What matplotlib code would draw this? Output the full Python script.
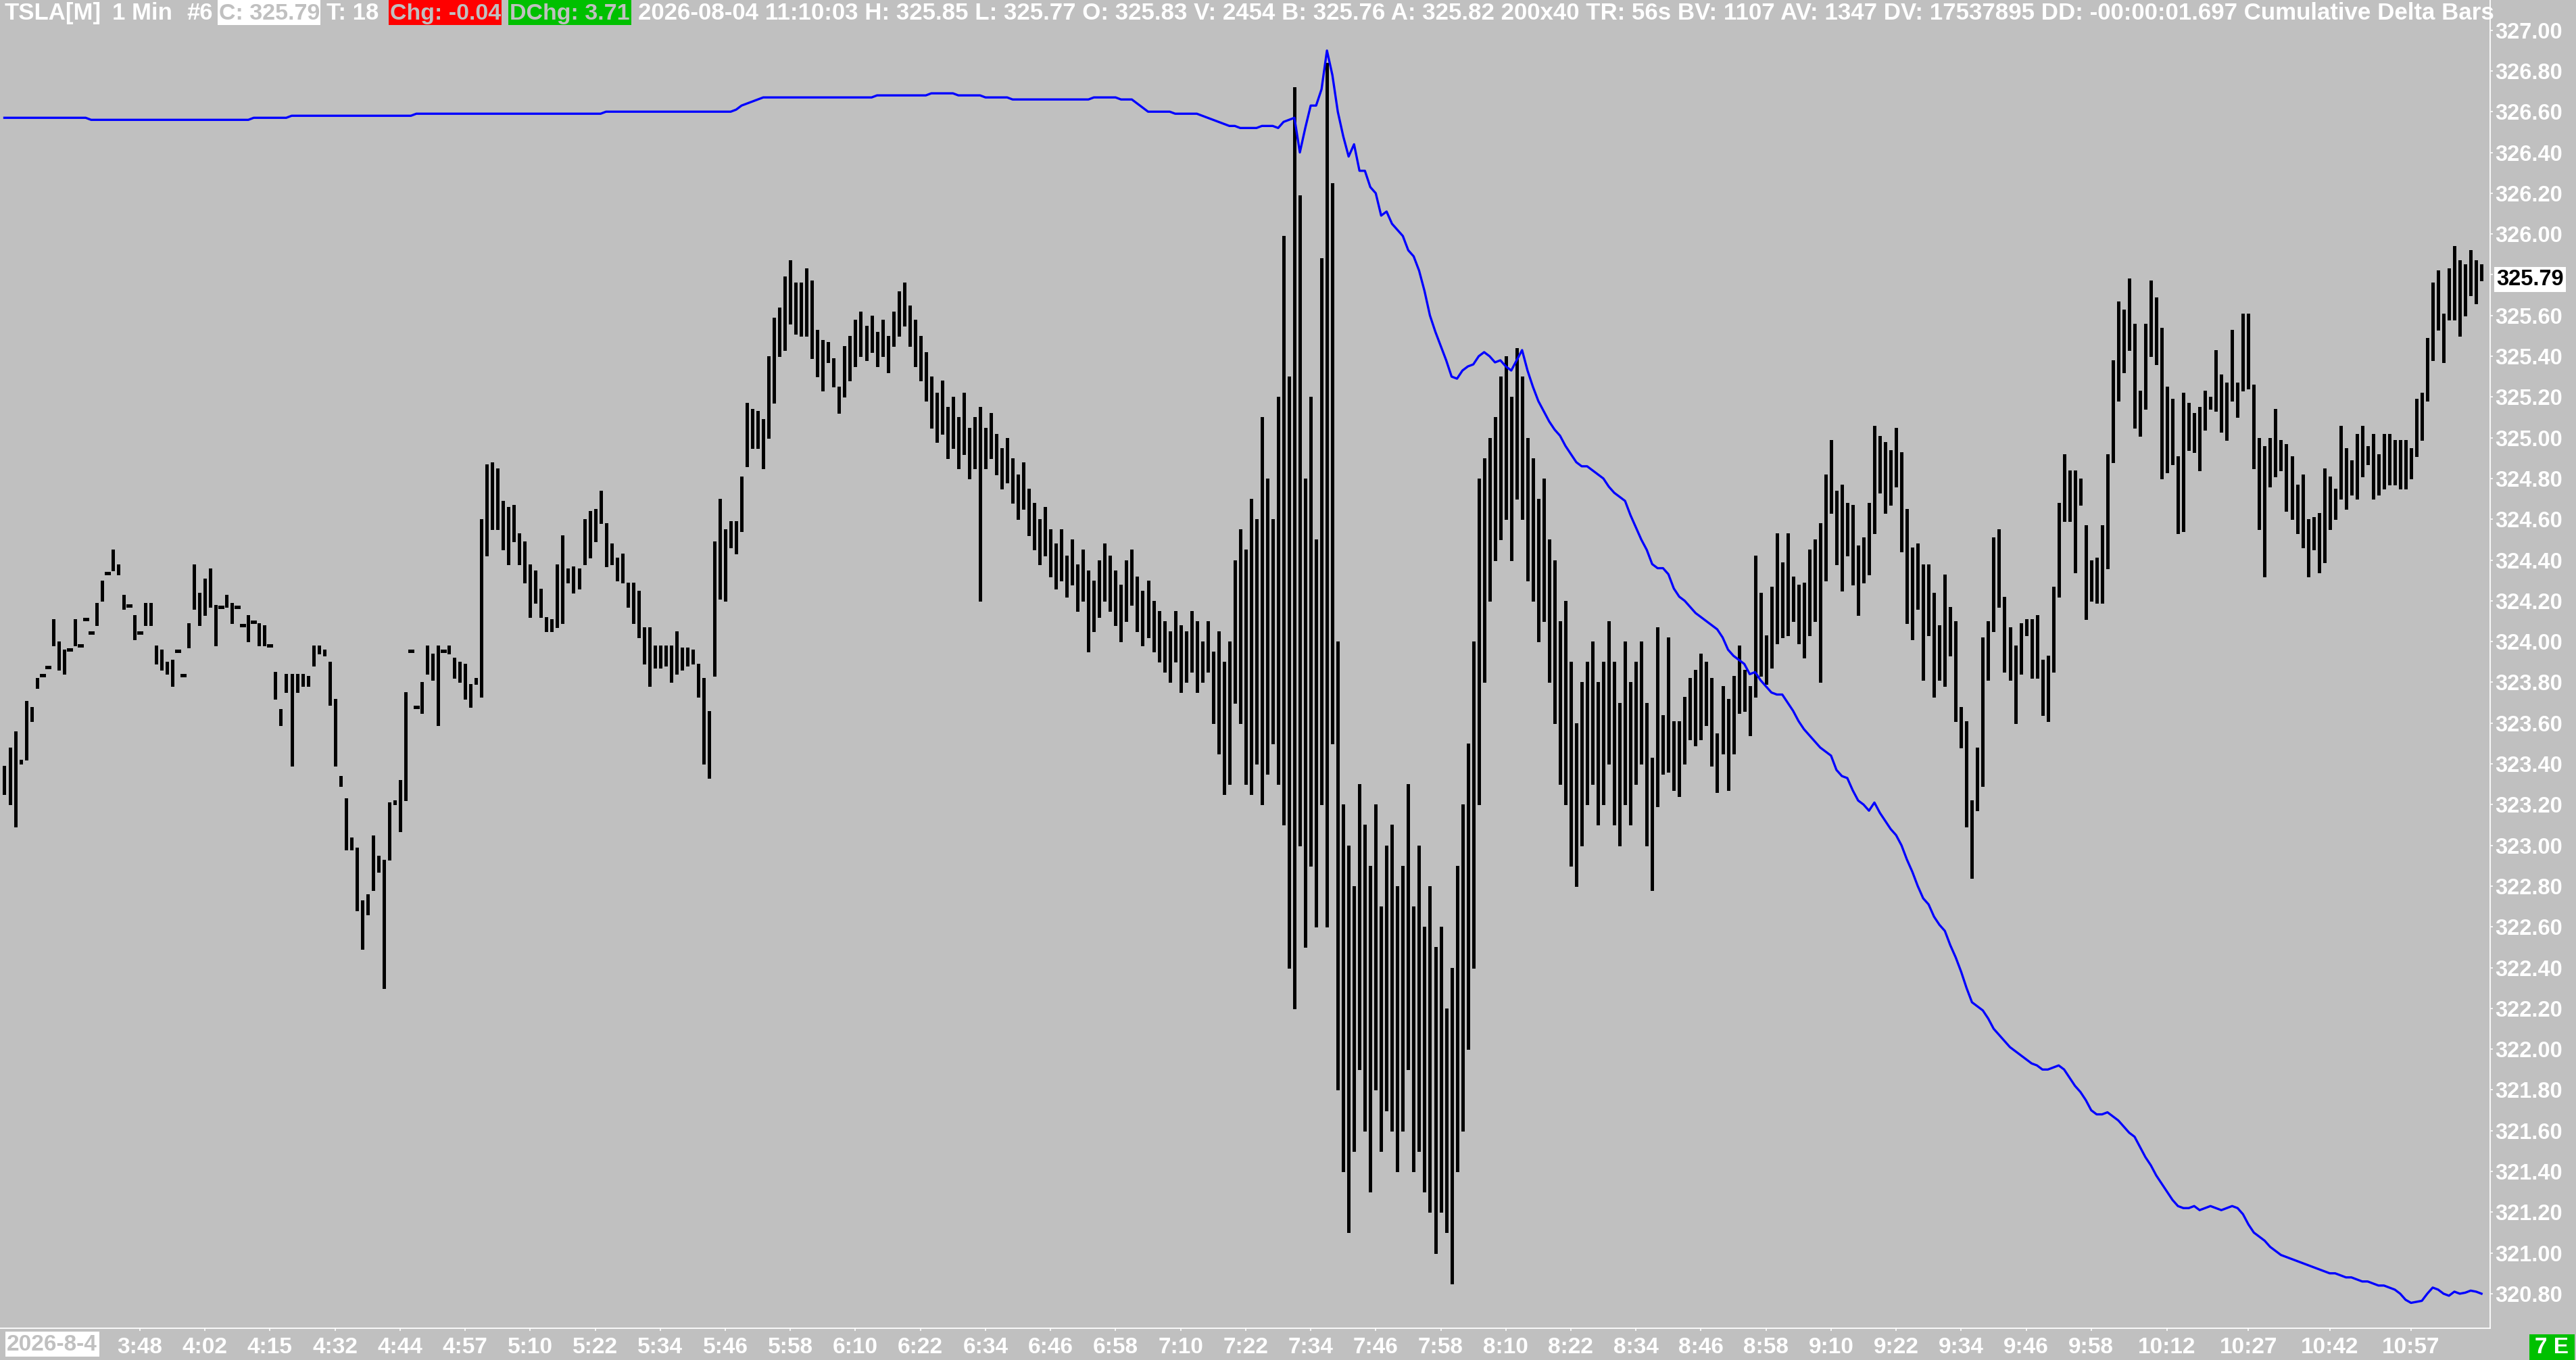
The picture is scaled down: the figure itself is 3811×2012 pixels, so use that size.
import matplotlib
matplotlib.use('Agg')
import matplotlib.pyplot as plt
from matplotlib.patches import Rectangle
import numpy as np

W, H = 3812, 2012
BG = '#c0c0c0'

# 1 min bars, high / low per bar
highs = [
    323.39, 323.48, 323.56, 323.42, 323.71, 323.68, 323.82, 323.84, 323.88, 324.11,
    324.00, 323.96, 323.96, 324.11, 323.98, 324.11, 324.05, 324.19, 324.30, 324.34,
    324.45, 324.38, 324.23, 324.18, 324.13, 324.05, 324.19, 324.19, 323.98, 323.96,
    323.90, 323.91, 323.96, 323.84, 324.09, 324.38, 324.24, 324.31, 324.36, 324.18,
    324.17, 324.23, 324.19, 324.17, 324.08, 324.13, 324.10, 324.09, 324.08, 323.98,
    323.85, 323.67, 323.84, 323.84, 323.84, 323.84, 323.83, 323.98, 323.98, 323.96,
    323.90, 323.72, 323.34, 323.23, 323.04, 322.99, 322.73, 322.76, 323.05, 322.95,
    322.93, 323.21, 323.22, 323.32, 323.75, 323.96, 323.68, 323.80, 323.98, 323.94,
    323.98, 323.96, 323.98, 323.92, 323.90, 323.89, 323.79, 323.82, 324.60, 324.87,
    324.88, 324.85, 324.69, 324.66, 324.67, 324.53, 324.49, 324.38, 324.35, 324.26,
    324.12, 324.11, 324.38, 324.52, 324.36, 324.37, 324.36, 324.60, 324.64, 324.65,
    324.74, 324.58, 324.48, 324.41, 324.43, 324.29, 324.29, 324.25, 324.07, 324.07,
    323.98, 323.98, 323.98, 323.98, 324.05, 323.97, 323.97, 323.96, 323.89, 323.82,
    323.66, 324.49, 324.70, 324.55, 324.59, 324.59, 324.81, 325.17, 325.14, 325.13,
    325.09, 325.40, 325.59, 325.64, 325.79, 325.87, 325.76, 325.76, 325.83, 325.77,
    325.53, 325.48, 325.47, 325.39, 325.25, 325.45, 325.50, 325.58, 325.62, 325.55,
    325.60, 325.52, 325.58, 325.50, 325.62, 325.72, 325.76, 325.65, 325.58, 325.50,
    325.42, 325.30, 325.22, 325.28, 325.15, 325.20, 325.10, 325.22, 325.05, 325.10,
    325.15, 325.05, 325.12, 325.02, 324.95, 325.00, 324.90, 324.82, 324.88, 324.75,
    324.68, 324.60, 324.66, 324.55, 324.48, 324.55, 324.42, 324.50, 324.38, 324.45,
    324.35, 324.30, 324.40, 324.48, 324.42, 324.35, 324.28, 324.40, 324.45, 324.32,
    324.25, 324.30, 324.20, 324.15, 324.10, 324.05, 324.15, 324.08, 324.05, 324.15,
    324.10, 324.00, 324.10, 323.95, 324.05, 323.90, 324.00, 324.40, 324.55, 324.45,
    324.70, 324.60, 325.10, 324.80, 324.60, 325.20, 325.99, 325.30, 326.72, 326.19,
    324.80, 325.20, 324.50, 325.88, 326.84, 326.25, 324.00, 323.20, 323.00, 322.80,
    323.30, 323.10, 322.90, 323.20, 322.70, 323.00, 323.10, 322.80, 322.90, 323.30,
    322.70, 323.00, 322.60, 322.80, 322.50, 322.60, 322.20, 322.40, 322.90, 323.20,
    323.50, 324.00, 324.80, 324.90, 325.00, 325.10, 325.30, 325.40, 325.20, 325.44,
    325.30, 325.00, 324.90, 324.70, 324.80, 324.50, 324.40, 324.10, 324.20, 323.90,
    323.60, 323.80, 323.90, 324.00, 323.80, 323.90, 324.10, 323.90, 323.70, 324.00,
    323.80, 323.90, 324.00, 323.70, 323.43, 324.07, 323.64, 324.02, 323.61, 323.61,
    323.73, 323.82, 323.86, 323.94, 323.90, 323.82, 323.55, 323.78, 323.72, 323.83,
    323.98, 323.86, 323.78, 324.42, 324.24, 324.03, 324.27, 324.53, 324.39, 324.53,
    324.32, 324.28, 324.29, 324.45, 324.50, 324.58, 324.82, 324.99, 324.74, 324.77,
    324.68, 324.67, 324.47, 324.51, 324.68, 325.06, 325.01, 324.98, 324.94, 325.05,
    324.93, 324.65, 324.46, 324.48, 324.38, 324.38, 324.24, 324.08, 324.33, 324.17,
    324.10, 323.68, 323.61, 323.22, 323.48, 324.02, 324.10, 324.51, 324.55, 324.22,
    324.07, 323.98, 324.09, 324.11, 324.11, 324.13, 323.91, 323.93, 324.27, 324.68,
    324.92, 324.84, 324.84, 324.80, 324.57, 324.40, 324.41, 324.57, 324.92, 325.38,
    325.67, 325.63, 325.78, 325.56, 325.23, 325.56, 325.77, 325.69, 325.54, 325.25,
    325.19, 324.91, 325.22, 325.17, 325.12, 325.15, 325.23, 325.20, 325.43, 325.31,
    325.27, 325.53, 325.27, 325.61, 325.61, 325.26, 325.00, 324.96, 325.00, 325.14,
    324.99, 324.97, 324.91, 324.77, 324.82, 324.60, 324.61, 324.63, 324.85, 324.81,
    324.75, 325.06, 324.95, 324.89, 325.02, 325.06, 324.96, 325.02, 324.92, 325.02,
    325.02, 324.99, 324.99, 324.99, 324.95, 325.19, 325.22, 325.49, 325.76, 325.82,
    325.61, 325.83, 325.94, 325.87, 325.85, 325.92, 325.87, 325.85,
]
lows = [
    323.25, 323.20, 323.09, 323.40, 323.42, 323.61, 323.77, 323.83, 323.87, 323.98,
    323.86, 323.84, 323.96, 323.98, 323.98, 324.11, 324.04, 324.08, 324.20, 324.33,
    324.35, 324.33, 324.16, 324.17, 324.01, 324.04, 324.08, 324.08, 323.89, 323.86,
    323.84, 323.78, 323.95, 323.83, 323.97, 324.16, 324.08, 324.13, 324.17, 323.98,
    324.17, 324.17, 324.09, 324.17, 324.08, 324.00, 324.09, 323.98, 323.98, 323.98,
    323.72, 323.59, 323.75, 323.39, 323.75, 323.78, 323.78, 323.88, 323.94, 323.93,
    323.69, 323.39, 323.29, 322.98, 322.98, 322.68, 322.49, 322.66, 322.78, 322.87,
    322.30, 322.93, 323.20, 323.07, 323.22, 323.95, 323.68, 323.65, 323.84, 323.81,
    323.59, 323.95, 323.94, 323.82, 323.80, 323.72, 323.68, 323.79, 323.73, 324.42,
    324.55, 324.55, 324.45, 324.38, 324.49, 324.38, 324.29, 324.12, 324.19, 324.12,
    324.05, 324.05, 324.07, 324.09, 324.29, 324.24, 324.26, 324.38, 324.41, 324.49,
    324.58, 324.37, 324.38, 324.30, 324.29, 324.17, 324.09, 324.02, 323.89, 323.78,
    323.87, 323.87, 323.88, 323.80, 323.84, 323.86, 323.88, 323.89, 323.73, 323.40,
    323.33, 323.83, 324.21, 324.20, 324.46, 324.43, 324.54, 324.86, 324.95, 324.95,
    324.85, 325.00, 325.17, 325.40, 325.43, 325.56, 325.51, 325.50, 325.50, 325.39,
    325.30, 325.23, 325.37, 325.25, 325.12, 325.20, 325.28, 325.35, 325.40, 325.38,
    325.42, 325.35, 325.40, 325.32, 325.45, 325.50, 325.55, 325.45, 325.35, 325.28,
    325.18, 325.05, 324.98, 325.02, 324.90, 324.95, 324.85, 324.92, 324.80, 324.85,
    324.20, 324.85, 324.90, 324.82, 324.75, 324.78, 324.68, 324.60, 324.65, 324.52,
    324.45, 324.38, 324.42, 324.32, 324.26, 324.30, 324.22, 324.28, 324.15, 324.20,
    323.95, 324.05, 324.12, 324.20, 324.15, 324.08, 324.00, 324.10, 324.18, 324.05,
    323.98, 324.02, 323.95, 323.90, 323.85, 323.80, 323.90, 323.75, 323.80, 323.85,
    323.75, 323.80, 323.85, 323.60, 323.45, 323.25, 323.30, 323.70, 323.60, 323.30,
    323.25, 323.40, 323.20, 323.35, 323.50, 323.30, 323.10, 322.40, 322.20, 323.00,
    322.50, 322.90, 322.60, 323.20, 322.60, 323.50, 321.80, 321.40, 321.10, 321.50,
    321.90, 321.60, 321.30, 321.80, 321.50, 321.70, 321.60, 321.40, 321.60, 321.90,
    321.40, 321.50, 321.30, 321.20, 321.00, 321.20, 321.10, 320.85, 321.40, 321.60,
    322.00, 322.40, 323.20, 323.80, 324.20, 324.40, 324.50, 324.60, 324.40, 324.70,
    324.60, 324.30, 324.20, 324.00, 324.10, 323.80, 323.60, 323.30, 323.20, 322.90,
    322.80, 323.00, 323.20, 323.30, 323.10, 323.20, 323.40, 323.10, 323.00, 323.20,
    323.10, 323.30, 323.40, 323.00, 322.78, 323.19, 323.35, 323.36, 323.27, 323.24,
    323.40, 323.52, 323.49, 323.52, 323.59, 323.39, 323.26, 323.45, 323.27, 323.45,
    323.65, 323.66, 323.54, 323.73, 323.83, 323.79, 323.87, 323.99, 324.02, 324.03,
    324.10, 323.99, 323.92, 324.03, 324.10, 323.80, 324.30, 324.63, 324.38, 324.25,
    324.42, 324.28, 324.13, 324.29, 324.33, 324.53, 324.73, 324.63, 324.67, 324.76,
    324.44, 324.09, 324.01, 324.16, 323.81, 324.03, 323.73, 323.81, 323.78, 323.93,
    323.61, 323.48, 323.09, 322.84, 323.17, 323.29, 323.81, 324.05, 324.17, 323.85,
    323.81, 323.60, 323.84, 324.03, 323.82, 323.82, 323.64, 323.61, 323.85, 324.22,
    324.59, 324.59, 324.34, 324.67, 324.11, 324.20, 324.19, 324.19, 324.36, 324.88,
    325.18, 325.32, 325.43, 325.05, 325.01, 325.14, 325.40, 325.36, 324.80, 324.83,
    324.87, 324.53, 324.54, 324.94, 324.93, 324.84, 325.04, 325.14, 325.13, 325.03,
    324.99, 325.18, 325.10, 325.23, 325.24, 324.85, 324.55, 324.32, 324.76, 324.81,
    324.84, 324.64, 324.60, 324.53, 324.46, 324.32, 324.45, 324.34, 324.39, 324.55,
    324.60, 324.70, 324.65, 324.72, 324.70, 324.81, 324.87, 324.70, 324.72, 324.75,
    324.77, 324.77, 324.75, 324.75, 324.80, 324.91, 324.99, 325.18, 325.38, 325.53,
    325.37, 325.58, 325.58, 325.50, 325.60, 325.70, 325.66, 325.77,
]

# cumulative delta overlay; it has no scale of its own on the chart,
# so the values are kept in the units of the price axis it is drawn on
cum_delta = [
    326.57, 326.57, 326.57, 326.57, 326.57, 326.57, 326.57, 326.57, 326.57, 326.57,
    326.57, 326.57, 326.57, 326.57, 326.57, 326.57, 326.56, 326.56, 326.56, 326.56,
    326.56, 326.56, 326.56, 326.56, 326.56, 326.56, 326.56, 326.56, 326.56, 326.56,
    326.56, 326.56, 326.56, 326.56, 326.56, 326.56, 326.56, 326.56, 326.56, 326.56,
    326.56, 326.56, 326.56, 326.56, 326.56, 326.56, 326.57, 326.57, 326.57, 326.57,
    326.57, 326.57, 326.57, 326.58, 326.58, 326.58, 326.58, 326.58, 326.58, 326.58,
    326.58, 326.58, 326.58, 326.58, 326.58, 326.58, 326.58, 326.58, 326.58, 326.58,
    326.58, 326.58, 326.58, 326.58, 326.58, 326.58, 326.59, 326.59, 326.59, 326.59,
    326.59, 326.59, 326.59, 326.59, 326.59, 326.59, 326.59, 326.59, 326.59, 326.59,
    326.59, 326.59, 326.59, 326.59, 326.59, 326.59, 326.59, 326.59, 326.59, 326.59,
    326.59, 326.59, 326.59, 326.59, 326.59, 326.59, 326.59, 326.59, 326.59, 326.59,
    326.59, 326.60, 326.60, 326.60, 326.60, 326.60, 326.60, 326.60, 326.60, 326.60,
    326.60, 326.60, 326.60, 326.60, 326.60, 326.60, 326.60, 326.60, 326.60, 326.60,
    326.60, 326.60, 326.60, 326.60, 326.60, 326.61, 326.63, 326.64, 326.65, 326.66,
    326.67, 326.67, 326.67, 326.67, 326.67, 326.67, 326.67, 326.67, 326.67, 326.67,
    326.67, 326.67, 326.67, 326.67, 326.67, 326.67, 326.67, 326.67, 326.67, 326.67,
    326.67, 326.68, 326.68, 326.68, 326.68, 326.68, 326.68, 326.68, 326.68, 326.68,
    326.68, 326.69, 326.69, 326.69, 326.69, 326.69, 326.68, 326.68, 326.68, 326.68,
    326.68, 326.67, 326.67, 326.67, 326.67, 326.67, 326.66, 326.66, 326.66, 326.66,
    326.66, 326.66, 326.66, 326.66, 326.66, 326.66, 326.66, 326.66, 326.66, 326.66,
    326.66, 326.67, 326.67, 326.67, 326.67, 326.67, 326.66, 326.66, 326.66, 326.64,
    326.62, 326.60, 326.60, 326.60, 326.60, 326.60, 326.59, 326.59, 326.59, 326.59,
    326.59, 326.58, 326.57, 326.56, 326.55, 326.54, 326.53, 326.53, 326.52, 326.52,
    326.52, 326.52, 326.53, 326.53, 326.53, 326.52, 326.55, 326.56, 326.57, 326.40,
    326.52, 326.63, 326.63, 326.71, 326.90, 326.78, 326.60, 326.48, 326.38, 326.44,
    326.31, 326.31, 326.23, 326.20, 326.09, 326.11, 326.05, 326.02, 325.99, 325.92,
    325.89, 325.82, 325.72, 325.60, 325.52, 325.45, 325.38, 325.30, 325.29, 325.33,
    325.35, 325.36, 325.40, 325.42, 325.40, 325.37, 325.38, 325.35, 325.33, 325.38,
    325.43, 325.33, 325.25, 325.18, 325.13, 325.08, 325.04, 325.01, 324.96, 324.92,
    324.88, 324.86, 324.86, 324.84, 324.82, 324.80, 324.76, 324.73, 324.71, 324.69,
    324.62, 324.56, 324.50, 324.45, 324.38, 324.36, 324.36, 324.33, 324.26, 324.22,
    324.20, 324.17, 324.14, 324.12, 324.10, 324.08, 324.06, 324.02, 323.96, 323.93,
    323.91, 323.89, 323.84, 323.85, 323.81, 323.78, 323.75, 323.74, 323.74, 323.70,
    323.66, 323.61, 323.57, 323.54, 323.51, 323.48, 323.46, 323.44, 323.37, 323.34,
    323.33, 323.27, 323.22, 323.20, 323.17, 323.21, 323.16, 323.12, 323.08, 323.05,
    323.00, 322.93, 322.87, 322.80, 322.74, 322.71, 322.65, 322.61, 322.58, 322.51,
    322.45, 322.38, 322.30, 322.23, 322.21, 322.19, 322.15, 322.10, 322.07, 322.04,
    322.01, 321.99, 321.97, 321.95, 321.93, 321.92, 321.90, 321.90, 321.91, 321.92,
    321.90, 321.86, 321.82, 321.79, 321.75, 321.70, 321.68, 321.68, 321.69, 321.67,
    321.65, 321.62, 321.59, 321.57, 321.52, 321.47, 321.43, 321.38, 321.34, 321.30,
    321.26, 321.23, 321.22, 321.22, 321.23, 321.21, 321.22, 321.23, 321.22, 321.21,
    321.22, 321.23, 321.22, 321.19, 321.14, 321.10, 321.08, 321.06, 321.03, 321.01,
    320.99, 320.98, 320.97, 320.96, 320.95, 320.94, 320.93, 320.92, 320.91, 320.90,
    320.90, 320.89, 320.88, 320.88, 320.87, 320.86, 320.86, 320.85, 320.84, 320.84,
    320.83, 320.82, 320.80, 320.77, 320.755, 320.76, 320.765, 320.80, 320.83, 320.82,
    320.80, 320.79, 320.81, 320.80, 320.805, 320.815, 320.81, 320.80,
]

time_tick_bars = [25, 37, 49, 61, 73, 85, 97, 109, 121, 133, 145, 157, 169, 181,
                  193, 205, 217, 229, 241, 253, 265, 277, 289, 301, 313, 325, 337,
                  349, 361, 373, 385, 399, 414, 429, 444]
time_tick_labels = ['3:48', '4:02', '4:15', '4:32', '4:44', '4:57', '5:10', '5:22',
                    '5:34', '5:46', '5:58', '6:10', '6:22', '6:34', '6:46', '6:58',
                    '7:10', '7:22', '7:34', '7:46', '7:58', '8:10', '8:22', '8:34',
                    '8:46', '8:58', '9:10', '9:22', '9:34', '9:46', '9:58', '10:12',
                    '10:27', '10:42', '10:57']
price_ticks = [320.80, 321.00, 321.20, 321.40, 321.60, 321.80, 322.00, 322.20,
               322.40, 322.60, 322.80, 323.00, 323.20, 323.40, 323.60, 323.80,
               324.00, 324.20, 324.40, 324.60, 324.80, 325.00, 325.20, 325.40,
               325.60, 325.80, 326.00, 326.20, 326.40, 326.60, 326.80, 327.00]
last_price = 325.79

header_parts = [
    ('TSLA[M]', 7, 'white', None, 25),
    ('1 Min', 166, 'white', None, 25),
    ('#6', 276, 'white', None, 25),
    ('C: 325.79', 324, BG, ('white', 322, 474), 24.5),
    ('T: 18', 483, 'white', None, 25),
    ('Chg: -0.04', 577, BG, ('#ff0000', 575, 742), 24.5),
    ('DChg: 3.71', 754, BG, ('#00c000', 752, 934), 24.5),
    ('2026-08-04 11:10:03 H: 325.85 L: 325.77 O: 325.83 V: 2454 B: 325.76 '
     'A: 325.82 200x40 TR: 56s BV: 1107 AV: 1347 DV: 17537895 '
     'DD: -00:00:01.697 Cumulative Delta Bars', 944, 'white', None, 25.1),
]

FONT = ['Liberation Sans', 'DejaVu Sans']
plt.rcParams['font.family'] = FONT

fig = plt.figure(figsize=(W / 100, H / 100), dpi=100, facecolor=BG)
ax_right, ax_bottom = 3684, 1965
ax = fig.add_axes([0, (H - ax_bottom) / H, ax_right / W, ax_bottom / H])
ax.set_facecolor(BG)

n = len(highs)
bars = np.arange(n)
hi = np.array(highs)
lo = np.array(lows)

ax.vlines(bars, lo, hi, color='black', linewidth=2.4, antialiased=False)
flat = (hi - lo) < 0.015
ax.hlines((hi[flat] + lo[flat]) / 2, bars[flat] - 0.5, bars[flat] + 0.5,
          color='black', linewidth=2.2, antialiased=False)
ax.plot(bars, cum_delta, color='#0000ff', linewidth=2.4, zorder=5)

ax.set_xlim(-0.81, 458.6)
ax.set_ylim(320.6305, 327.148)

for s in ['left', 'top']:
    ax.spines[s].set_visible(False)
for s in ['right', 'bottom']:
    ax.spines[s].set_color('white')
    ax.spines[s].set_linewidth(1.3)

ax.yaxis.tick_right()
ax.set_yticks(price_ticks)
ax.set_yticklabels(['%.2f' % p for p in price_ticks])
ax.tick_params(axis='y', colors='white', length=3, width=1.2, pad=2,
               labelsize=23.5)
for lbl in ax.get_yticklabels():
    lbl.set_fontweight('bold')

ax.set_xticks(time_tick_bars)
ax.set_xticklabels(time_tick_labels)
ax.tick_params(axis='x', colors='white', length=3, width=1.2, pad=6,
               labelsize=24)
for lbl in ax.get_xticklabels():
    lbl.set_fontweight('bold')


def fx(x):
    return x / W


def fy(y):
    return 1 - y / H


# header line
for txt, x0, col, box, size in header_parts:
    if box is not None:
        fig.patches.append(Rectangle((fx(box[1]), fy(37)), (box[2] - box[1]) / W,
                                     37 / H, transform=fig.transFigure,
                                     facecolor=box[0], edgecolor='none'))
    fig.text(fx(x0), fy(29), txt, color=col, fontsize=size, fontweight='bold',
             va='baseline', ha='left')

# last price marker on the price scale
fig.patches.append(Rectangle((fx(3690), fy(432)), 106 / W, 37 / H,
                             transform=fig.transFigure, facecolor='white',
                             edgecolor='none'))
fig.text(fx(3743), fy(413), '%.2f' % last_price, color='black', fontsize=23.5,
         fontweight='bold', ha='center', va='center')

# date box bottom left
fig.patches.append(Rectangle((fx(8), fy(2007)), 139 / W, 37 / H,
                             transform=fig.transFigure, facecolor='white',
                             edgecolor='none'))
fig.text(fx(77), fy(1989), '2026-8-4', color=BG, fontsize=24, fontweight='bold',
         ha='center', va='center')

# bottom right status box
fig.patches.append(Rectangle((fx(3742), fy(2012)), 67 / W, 38 / H,
                             transform=fig.transFigure, facecolor='#00c000',
                             edgecolor='none'))
fig.text(fx(3775), fy(1993), '7 E', color='white', fontsize=24,
         fontweight='bold', ha='center', va='center')

fig.savefig('out.png', dpi=100, facecolor=BG)
